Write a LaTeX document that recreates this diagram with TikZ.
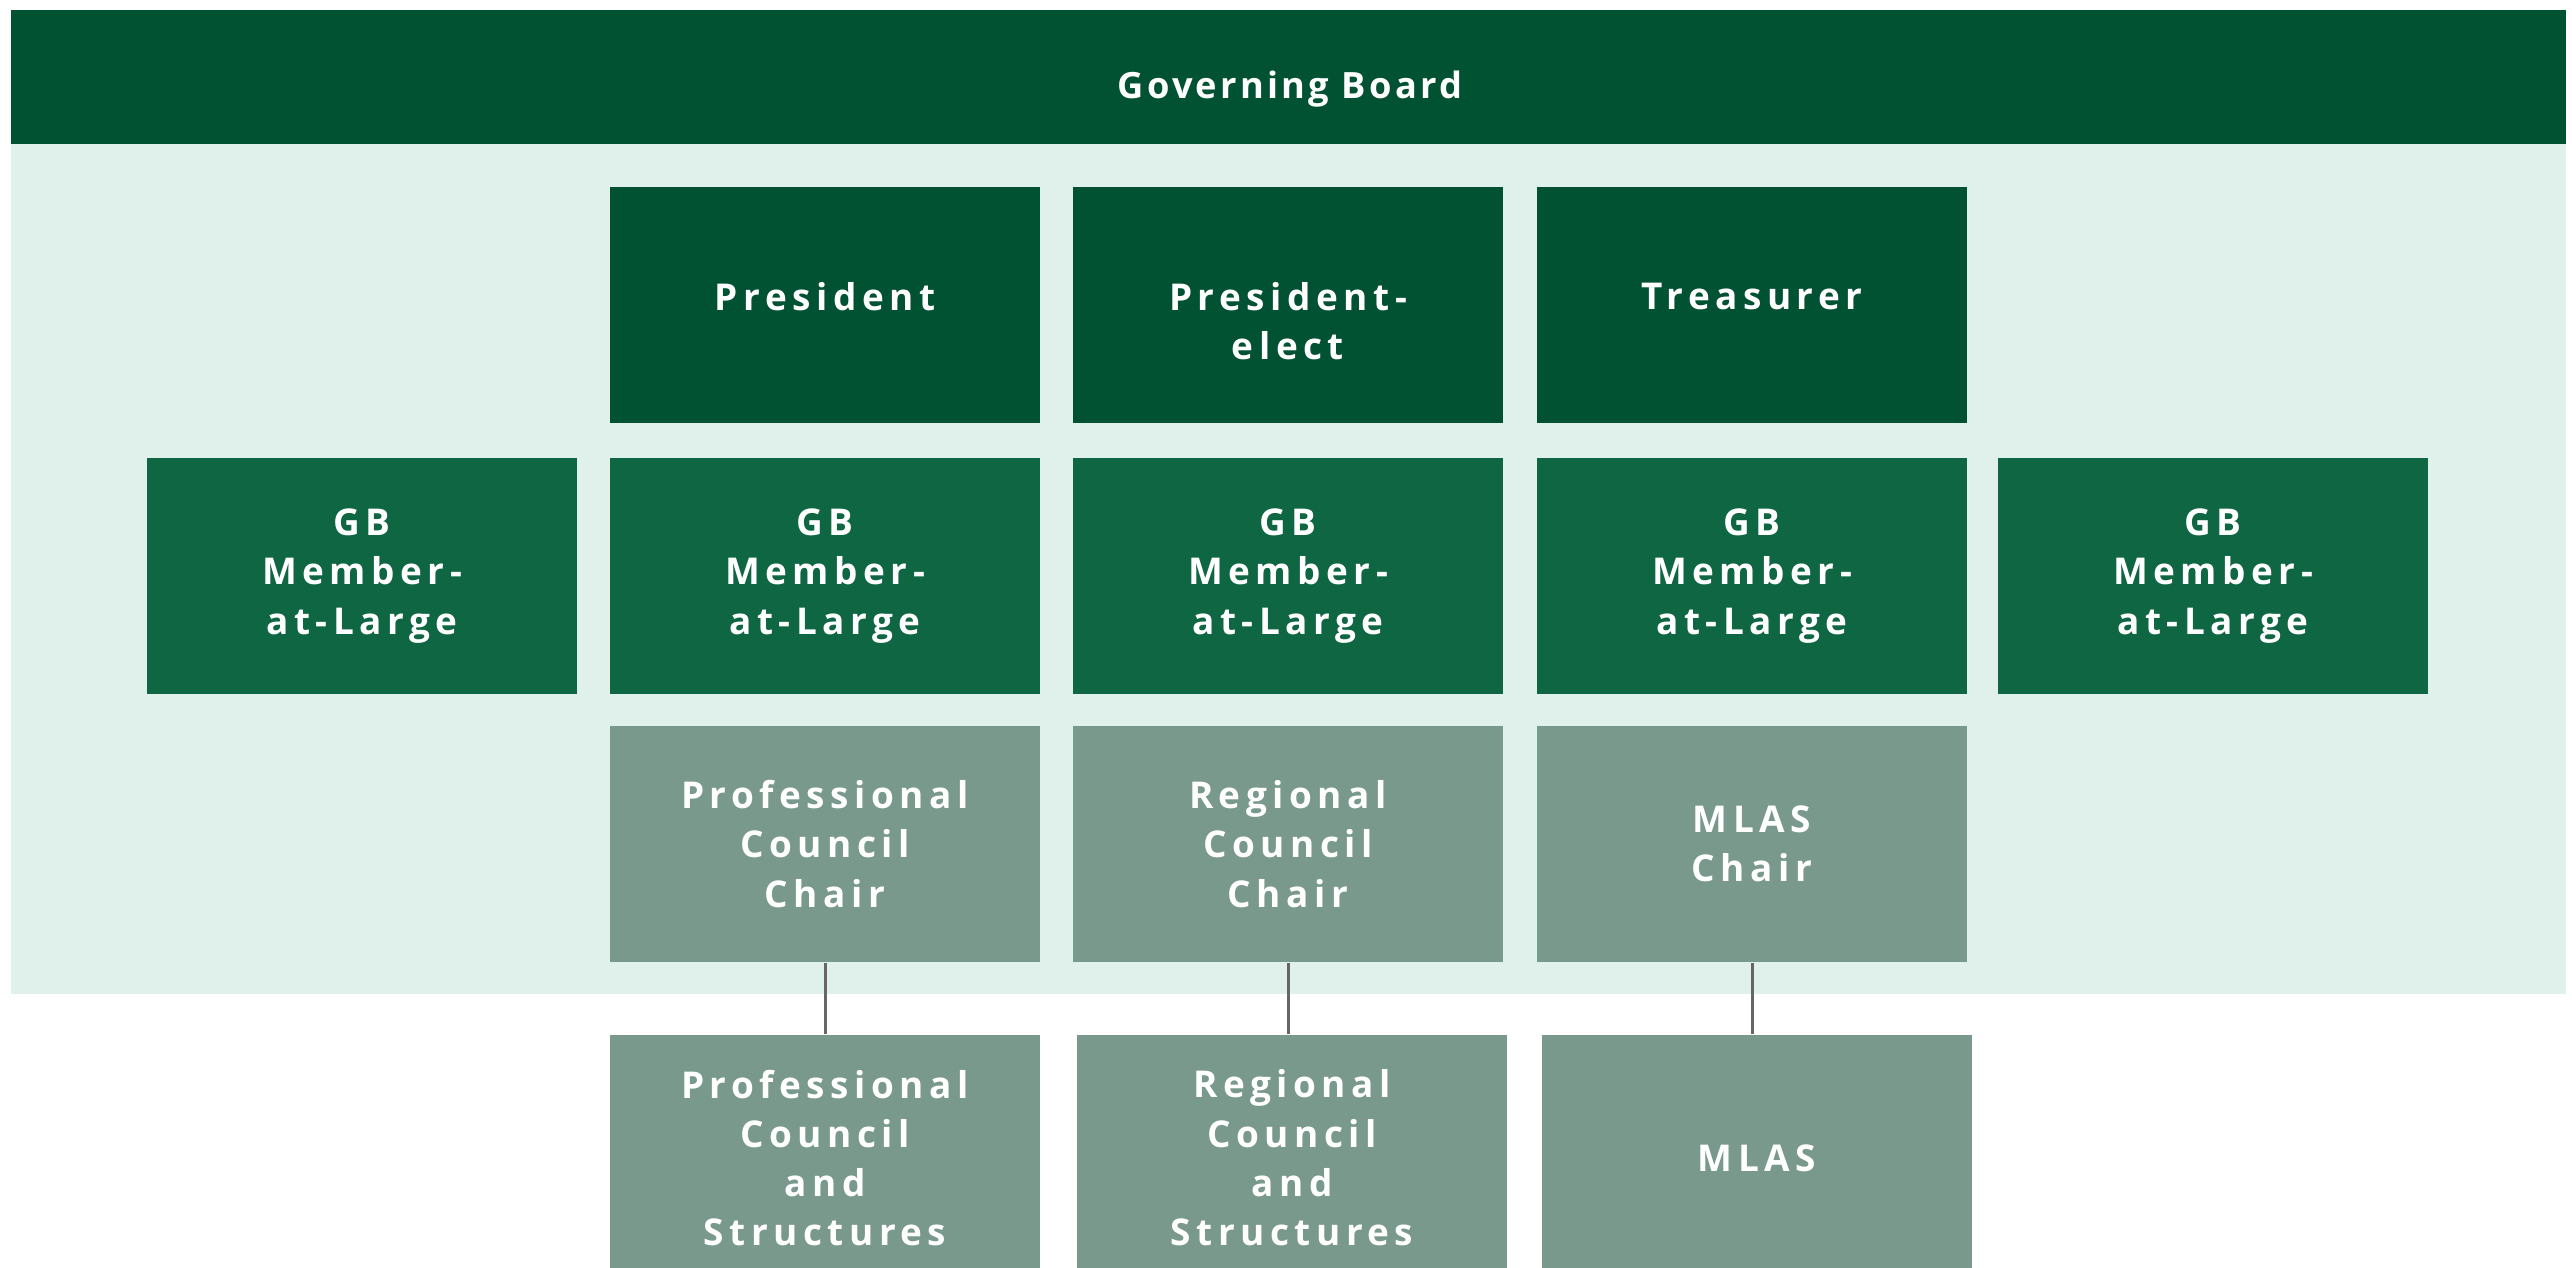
\documentclass[tikz,border=0pt]{standalone}
\usepackage{fontspec}
\setmainfont{Open Sans}
\newfontfamily\boxfont[LetterSpace=15]{Open Sans}
\newfontfamily\headfont[LetterSpace=9]{Open Sans}
\definecolor{boarddark}{HTML}{005233}
\definecolor{boardpale}{HTML}{E0F0EA}
\definecolor{memberfill}{HTML}{0E6643}
\definecolor{chairfill}{HTML}{79998D}
\definecolor{linkgray}{HTML}{666666}
\tikzset{
  orgbox/.style={minimum width=4.3cm, minimum height=2.36cm, inner sep=0pt, align=center,
    text=white, font=\boxfont\bfseries\fontsize{10.5}{14}\selectfont},
  officer/.style={orgbox, fill=boarddark},
  member/.style={orgbox, fill=memberfill},
  chair/.style={orgbox, fill=chairfill},
  unit/.style={orgbox, fill=chairfill, minimum height=2.46cm},
  link/.style={draw=linkgray, line width=0.85pt}
}
\begin{document}
\begin{tikzpicture}[x=0.01cm, y=-0.01cm]
  \useasboundingbox[fill=white] (0,0) rectangle (2572,1268);
  \fill[boardpale] (11,144) rectangle (2566,994);
  \fill[boarddark] (11,10) rectangle (2566,144);
  \node[text=white, font=\headfont\bfseries\fontsize{10.3}{12}\selectfont] (board) at (1290,89) {Governing Board};

  \node[officer] (pres) at (825,305) {President\\[-9.2pt]\mbox{}};
  \node[officer] (preselect) at (1288,305) {\mbox{}\\[3pt]President-\\elect};
  \node[officer] (treas) at (1752,305) {Treasurer\\[-9.2pt]\mbox{}};

  \node[member] (gb1) at (362,576) {GB\\Member-\\at-Large};
  \node[member] (gb2) at (825,576) {GB\\Member-\\at-Large};
  \node[member] (gb3) at (1288,576) {GB\\Member-\\at-Large};
  \node[member] (gb4) at (1752,576) {GB\\Member-\\at-Large};
  \node[member] (gb5) at (2213,576) {GB\\Member-\\at-Large};

  \node[chair] (profchair) at (825,844) {Professional\\Council\\Chair};
  \node[chair] (regchair) at (1288,844) {Regional\\Council\\Chair};
  \node[chair] (mlaschair) at (1752,844) {MLAS\\Chair};

  \node[unit] (profunit) at (825,1158) {Professional\\Council\\and\\Structures};
  \node[unit] (regunit) at (1292,1158) {Regional\\Council\\and\\Structures};
  \node[unit] (mlas) at (1757,1158) {MLAS};

  \draw[link] (profchair.south) -- (profchair.south |- profunit.north);
  \draw[link] (regchair.south) -- (regchair.south |- regunit.north);
  \draw[link] (mlaschair.south) -- (mlaschair.south |- mlas.north);
\end{tikzpicture}
\end{document}
